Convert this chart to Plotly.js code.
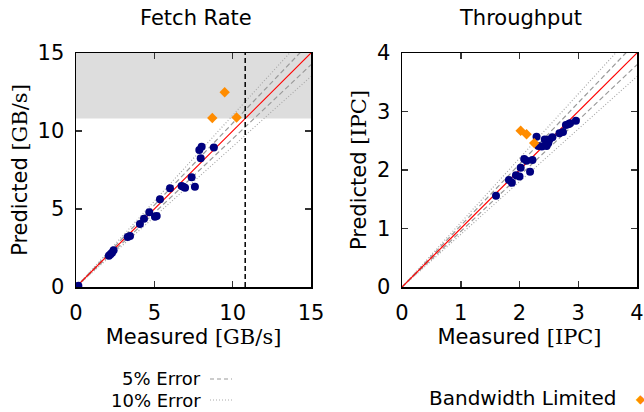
<!DOCTYPE html>
<html><head><meta charset="utf-8">
<script src="https://cdn.plot.ly/plotly-3.0.1.min.js"></script>
<style>html,body{margin:0;padding:0;background:#fff}</style>
</head><body><div id="plot" style="width:644px;height:412px"></div>
<script>
// Fetch Rate [GB/s]
var fetchMeasured = [0.15, 2.1, 2.2, 2.3, 2.4, 3.3, 3.45, 4.08, 4.34, 4.68, 5.04, 5.15, 5.36, 6.0, 6.74, 6.85, 6.96, 7.38, 7.59, 7.96, 7.87, 8.02, 8.8];
var fetchPredicted = [0.08, 2.0, 2.1, 2.2, 2.35, 3.2, 3.27, 4.04, 4.38, 4.79, 4.51, 4.55, 5.62, 6.33, 6.47, 6.43, 6.36, 7.03, 6.43, 8.25, 8.78, 8.99, 8.94];
var fetchBwMeasured = [8.7, 9.49, 10.25];
var fetchBwPredicted = [10.83, 12.48, 10.87];
var fetchLimit = 10.8;
// Throughput [IPC]
var ipcMeasured = [1.60, 1.82, 1.87, 1.94, 2.0, 2.02, 2.18, 2.08, 2.12, 2.22, 2.29, 2.32, 2.38, 2.43, 2.46, 2.49, 2.51, 2.56, 2.68, 2.74, 2.79, 2.83, 2.86, 2.96];
var ipcPredicted = [1.56, 1.83, 1.78, 1.91, 1.89, 2.04, 1.97, 2.19, 2.16, 2.17, 2.57, 2.41, 2.40, 2.52, 2.41, 2.46, 2.52, 2.56, 2.63, 2.65, 2.77, 2.78, 2.80, 2.84];
var ipcBwMeasured = [2.02, 2.12, 2.25];
var ipcBwPredicted = [2.67, 2.61, 2.46];

var fetchMax = 15, ipcMax = 4;
var errFactors = [1.05, 0.95, 1.10, 0.90];
var errStyles = ['dash', 'dash', 'dot', 'dot'];

var blue = '#00007f', orange = '#ff8c00';
var W = 644, H = 412;
var sans = 'DejaVu Sans', serif = 'DejaVu Serif';
var FS = 21;

function refTraces(max, xa, ya) {
  var t = [];
  for (var i = 0; i < errFactors.length; i++) {
    var f = errFactors[i];
    t.push({x: [0, max], y: [0, max * f], xaxis: xa, yaxis: ya, mode: 'lines',
      line: {color: errStyles[i] === 'dash' ? '#999' : '#aaa', width: 1.2, dash: errStyles[i] === 'dash' ? '5px,3px' : '1px,2px'},
      hoverinfo: 'skip', showlegend: false});
  }
  t.push({x: [0, max], y: [0, max], xaxis: xa, yaxis: ya, mode: 'lines',
    line: {color: '#ff0000', width: 1.2}, showlegend: false});
  return t;
}

var data = [].concat(refTraces(fetchMax, 'x', 'y'), refTraces(ipcMax, 'x2', 'y2'), [
  {x: fetchMeasured, y: fetchPredicted, xaxis: 'x', yaxis: 'y', mode: 'markers', marker: {color: blue, size: 8}, showlegend: false},
  {x: fetchBwMeasured, y: fetchBwPredicted, xaxis: 'x', yaxis: 'y', mode: 'markers', marker: {color: orange, size: 8, symbol: 'diamond'}, showlegend: false},
  {x: ipcMeasured, y: ipcPredicted, xaxis: 'x2', yaxis: 'y2', mode: 'markers', marker: {color: blue, size: 8}, showlegend: false},
  {x: ipcBwMeasured, y: ipcBwPredicted, xaxis: 'x2', yaxis: 'y2', mode: 'markers', marker: {color: orange, size: 8, symbol: 'diamond'}, showlegend: false}
]);

function ax(domain, range, dtick, anchor, title, standoff) {
  return {domain: domain, range: range, dtick: dtick, tick0: 0, anchor: anchor,
    showgrid: false, zeroline: false, showline: true, linecolor: '#000', linewidth: 1.5,
    mirror: 'ticks', ticks: 'inside', ticklen: 6, tickwidth: 1.5, tickcolor: '#333',
    ticklabelstandoff: 6,
    tickfont: {family: sans, size: FS, color: '#000'},
    title: {text: title, font: {family: sans, size: FS, color: '#000'}, standoff: standoff}};
}
var yd = [1 - 287 / H, 1 - 53 / H];
function note(text, px, py, xanchor, size, color) {
  return {text: text, xref: 'paper', yref: 'paper', x: px / W, y: 1 - py / H, xanchor: xanchor, yanchor: 'middle',
    showarrow: false, font: {family: sans, size: size, color: color || '#000'}};
}
var layout = {
  width: W, height: H, margin: {l: 0, r: 0, t: 0, b: 0},
  paper_bgcolor: '#fff', plot_bgcolor: '#fff', showlegend: false,
  xaxis: ax([76 / W, 311 / W], [0, fetchMax], 5, 'y', 'Measured <span style="font-family:' + serif + '">[GB/s]</span>', 0),
  yaxis: ax(yd, [0, fetchMax], 5, 'x', 'Predicted <span style="font-family:' + serif + '">[GB/s]</span>', 4),
  xaxis2: ax([402 / W, 637 / W], [0, ipcMax], 1, 'y2', 'Measured <span style="font-family:' + serif + '">[IPC]</span>', 0),
  yaxis2: ax(yd, [0, ipcMax], 1, 'x2', 'Predicted <span style="font-family:' + serif + '">[IPC]</span>', 4),
  shapes: [
    {type: 'rect', xref: 'x', yref: 'y', x0: 0, x1: fetchMax, y0: fetchLimit, y1: fetchMax, fillcolor: '#dddddd', line: {width: 0}, layer: 'below'},
    {type: 'line', xref: 'x', yref: 'y', x0: fetchLimit, x1: fetchLimit, y0: 0, y1: fetchMax, line: {color: '#000', width: 1.5, dash: '5px,3px'}},
    {type: 'line', xref: 'paper', yref: 'paper', x0: 210 / W, x1: 232 / W, y0: 1 - 379 / H, y1: 1 - 379 / H, line: {color: '#999', width: 1, dash: '4px,3px'}},
    {type: 'line', xref: 'paper', yref: 'paper', x0: 210 / W, x1: 232 / W, y0: 1 - 400 / H, y1: 1 - 400 / H, line: {color: '#aaa', width: 1, dash: '1px,2px'}}
  ],
  annotations: [
    note('Fetch Rate', 196, 18, 'center', FS),
    note('Throughput', 520, 18, 'center', FS),
    note('5% Error', 203, 378, 'right', 18),
    note('10% Error', 203, 400, 'right', 18),
    note('Bandwidth Limited', 618, 398, 'right', 20),
    note('\u25C6', 634, 399, 'left', 12, orange)
  ]
};
Plotly.newPlot('plot', data, layout, {staticPlot: true});
</script></body></html>
